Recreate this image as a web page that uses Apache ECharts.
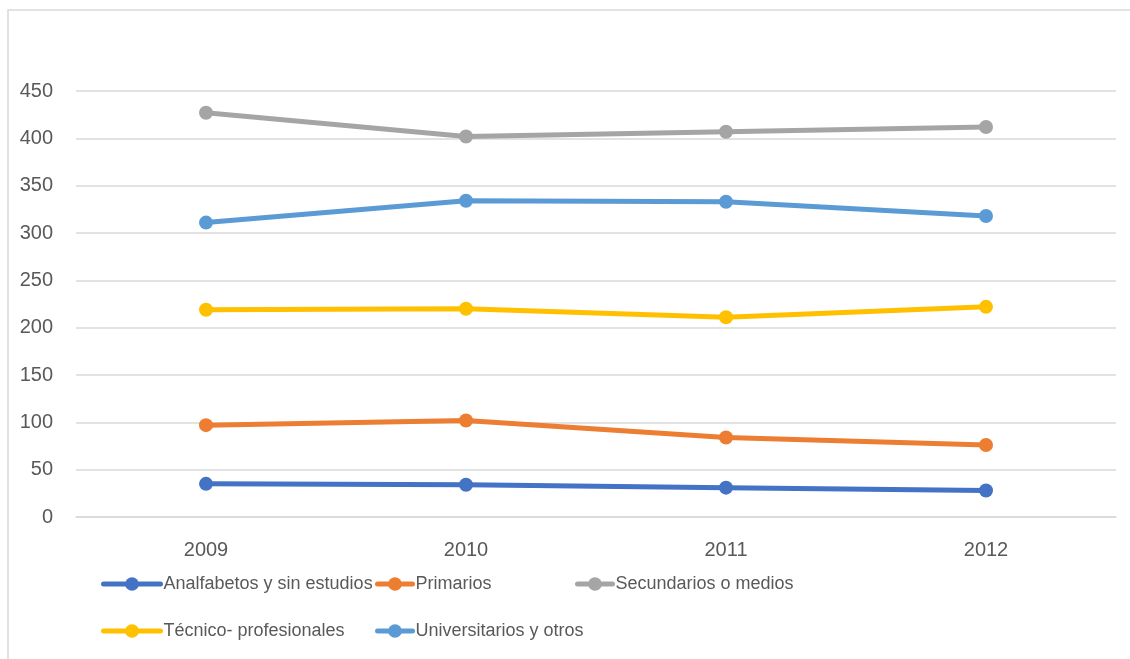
<!DOCTYPE html>
<html>
<head>
<meta charset="utf-8">
<script src="https://cdn.jsdelivr.net/npm/echarts@6/dist/echarts.min.js"></script>
<style>
html,body{margin:0;padding:0;background:#fff;}
#chart{width:1130px;height:659px;}
</style>
</head>
<body>
<div id="chart"></div>
<script>
const years = ['2009', '2010', '2011', '2012'];
const analfabetos = [35, 34, 31, 28];
const primarios = [97, 102, 84, 76];
const secundarios = [427, 402, 407, 412];
const tecnico = [219, 220, 211, 222];
const universitarios = [311, 334, 333, 318];
const seriesNames = ['Analfabetos y sin estudios', 'Primarios', 'Secundarios o medios', 'Técnico- profesionales', 'Universitarios y otros'];
const seriesData = [analfabetos, primarios, secundarios, tecnico, universitarios];
const colors = ['#4472C4', '#ED7D31', '#A5A5A5', '#FFC000', '#5B9BD5'];

const font = 'Liberation Sans, Arial, sans-serif';
const legendPos = [
  {left: 101, top: 575, w: 57},
  {left: 375, top: 575, w: 35},
  {left: 575, top: 575, w: 35},
  {left: 101, top: 622, w: 57},
  {left: 375, top: 622, w: 35}
];

const chart = echarts.init(document.getElementById('chart'), null, {renderer: 'canvas'});
chart.setOption({
  animation: false,
  backgroundColor: '#fff',
  color: colors,
  graphic: [{
    type: 'rect',
    shape: {x: 8, y: 10, width: 1300, height: 800},
    style: {fill: 'none', stroke: '#d9d9d9', lineWidth: 1.5},
    silent: true,
    z: -10
  }],
  grid: {left: 76, right: 14, top: 91, bottom: 142, containLabel: false},
  legend: seriesNames.map((n, i) => ({
    data: [n],
    left: legendPos[i].left,
    top: legendPos[i].top,
    itemWidth: legendPos[i].w,
    itemHeight: 17,
    itemGap: 0,
    padding: 0,
    lineStyle: {width: 5, cap: 'round'},
    textStyle: {color: '#595959', fontSize: 18, fontFamily: font, padding: [0, 0, 0, -2]}
  })),
  xAxis: {
    type: 'category',
    data: years,
    boundaryGap: true,
    axisLine: {show: true, lineStyle: {color: '#d9d9d9', width: 1.5}},
    axisTick: {show: false},
    axisLabel: {color: '#595959', fontSize: 20, fontFamily: font, margin: 23}
  },
  yAxis: {
    type: 'value',
    min: 0,
    max: 450,
    interval: 50,
    axisLine: {show: false},
    axisTick: {show: false},
    splitLine: {lineStyle: {color: '#d9d9d9', width: 1.5}},
    axisLabel: {color: '#595959', fontSize: 20, fontFamily: font, margin: 23}
  },
  series: seriesNames.map((n, i) => ({
    name: n,
    type: 'line',
    data: seriesData[i],
    symbol: 'circle',
    symbolSize: 14,
    lineStyle: {width: 5, color: colors[i]},
    itemStyle: {color: colors[i]}
  }))
});
</script>
</body>
</html>
